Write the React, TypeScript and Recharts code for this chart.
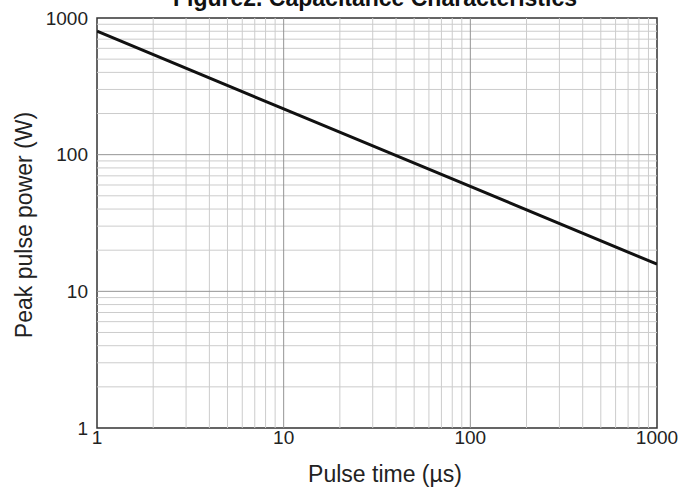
import React from 'react';
import {
    LineChart,
    Line,
    XAxis,
    YAxis,
    ReferenceLine,
    ReferenceArea,
} from 'recharts';

// pulse time (µs) vs peak pulse power (W)
const pulseTime = [1, 10, 100, 1000];
const peakPower = [800, 216, 58.5, 15.8];

const xTicks = [1, 10, 100, 1000];
const yTicks = [1, 10, 100, 1000];

const minorGrid = [2, 3, 4, 5, 6, 7, 8, 9, 20, 30, 40, 50, 60, 70, 80, 90, 200, 300, 400, 500, 600, 700, 800, 900];
const majorGrid = [10, 100];

const data = pulseTime.map((t, i) => ({ t, p: peakPower[i] }));

const font = 'Arial, "Liberation Sans", Helvetica, sans-serif';

const App: React.FC = () => {
    return (
        <div style={{ position: 'absolute', left: 0, top: 0, width: 691, height: 488, background: '#fff', fontFamily: font }}>
            <LineChart width={691} height={488} data={data} margin={{ top: 18, right: 34, bottom: 0, left: 0 }}>
                <XAxis
                    dataKey="t"
                    type="number"
                    scale="log"
                    domain={[1, 1000]}
                    ticks={xTicks}
                    allowDataOverflow
                    axisLine={false}
                    tickLine={false}
                    tickSize={0}
                    tickMargin={3}
                    height={60}
                    tick={{ fill: '#222', fontSize: 19, fontFamily: font }}
                    label={{
                        content: () => (
                            <text x={385} y={474} textAnchor="middle" dominantBaseline="central" fill="#222" fontSize={23} fontFamily={font}>
                                Pulse time (µs)
                            </text>
                        ),
                    }}
                />
                <YAxis
                    dataKey="p"
                    type="number"
                    scale="log"
                    domain={[1, 1000]}
                    ticks={yTicks}
                    allowDataOverflow
                    axisLine={false}
                    tickLine={false}
                    tickSize={0}
                    tickMargin={9}
                    width={97}
                    tick={{ fill: '#222', fontSize: 19, fontFamily: font }}
                    label={{
                        content: () => (
                            <text x={24} y={225} transform="rotate(-90 24 225)" textAnchor="middle" dominantBaseline="central" fill="#222" fontSize={23} fontFamily={font}>
                                Peak pulse power (W)
                            </text>
                        ),
                    }}
                />
                {minorGrid.map((v) => (
                    <ReferenceLine key={`mx-${v}`} x={v} stroke="#cccccc" strokeWidth={1} />
                ))}
                {minorGrid.map((v) => (
                    <ReferenceLine key={`my-${v}`} y={v} stroke="#cccccc" strokeWidth={1} />
                ))}
                {majorGrid.map((v) => (
                    <ReferenceLine key={`Mx-${v}`} x={v} stroke="#959595" strokeWidth={1} />
                ))}
                {majorGrid.map((v) => (
                    <ReferenceLine key={`My-${v}`} y={v} stroke="#959595" strokeWidth={1} />
                ))}
                <ReferenceArea x1={1} x2={1000} y1={1} y2={1000} fill="none" stroke="#333" strokeWidth={1.5} />
                <Line
                    type="linear"
                    dataKey="p"
                    stroke="#111"
                    strokeWidth={3}
                    dot={false}
                    isAnimationActive={false}
                />
            </LineChart>
            <svg width={691} height={488} style={{ position: 'absolute', left: 0, top: 0, pointerEvents: 'none' }}>
                <text x={375} y={6} textAnchor="middle" fontSize={23} fontWeight="bold" fill="#111" fontFamily={font}>
                    Figure2. Capacitance Characteristics
                </text>
            </svg>
        </div>
    );
};

export default App;
